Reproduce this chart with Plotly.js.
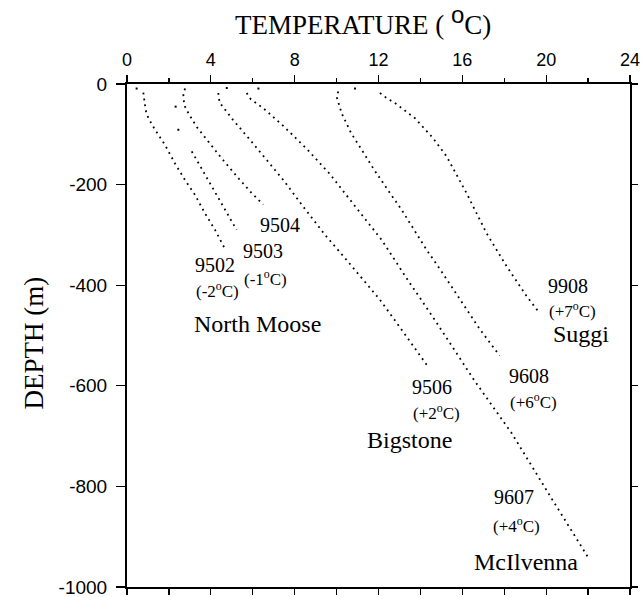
<!DOCTYPE html>
<html>
<head>
<meta charset="utf-8">
<script src="https://cdn.plot.ly/plotly-3.0.1.min.js"></script>
<style>
  html, body { margin: 0; padding: 0; background: #fff; }
  #chart { width: 644px; height: 597px; }
</style>
</head>
<body>
<div id="chart"></div>
<script>
// Temperature-depth logs, North Moose / Bigstone / McIlvenna / Suggi wells.
// Temperatures in degrees C, depths in metres (negative downward).

// North Moose 9502 (-2 C)
const w9502_t = [0.78, 0.83, 0.89, 1.02, 1.34, 1.81, 2.29, 2.77, 3.24, 3.72, 4.20, 4.65];
const w9502_z = [-17, -32, -52, -68, -91, -121, -158, -191, -220, -257, -290, -326];
const w9502_top_t = [0.46];
const w9502_top_z = [-9];

// North Moose 9503 (-1 C)
const w9503_t = [3.09, 4.15, 5.23];
const w9503_z = [-134, -212, -290];
const w9503_top_t = [2.32, 2.45];
const w9503_top_z = [-45, -91];

// North Moose 9504
const w9504_t = [2.77, 2.69, 2.73, 2.93, 3.32, 3.88, 4.52, 5.31, 5.95, 6.50];
const w9504_z = [-9, -22, -42, -58, -85, -115, -148, -187, -217, -240];

// Bigstone 9506 (+2 C)
const w9506_t = [4.36, 4.36, 4.44, 5.07, 5.87, 6.66, 7.46, 8.41, 9.45, 10.48, 11.27, 12.07, 12.87, 13.66, 14.38];
const w9506_z = [-18, -25, -38, -72, -111, -151, -191, -244, -300, -350, -389, -429, -475, -522, -563];
const w9506_top_t = [4.76];
const w9506_top_z = [-8];

// McIlvenna 9607 (+4 C)
const w9607_t = [5.71, 5.90, 6.50, 7.50, 8.60, 9.70, 10.90, 12.15, 13.34, 14.70, 16.60, 18.35, 20.20, 22.06];
const w9607_z = [-18, -30, -48, -85, -130, -180, -244, -310, -386, -470, -591, -694, -820, -945];
const w9607_top_t = [6.27];
const w9607_top_z = [-9];

// Bigstone 9608 (+6 C)
const w9608_t = [10.08, 10.00, 10.24, 10.70, 11.20, 11.80, 12.45, 13.10, 13.70, 14.30, 14.95, 15.60, 16.22, 16.86, 17.78];
const w9608_z = [-15, -25, -58, -98, -131, -171, -211, -250, -290, -330, -369, -409, -449, -489, -540];
const w9608_top_t = [10.88];
const w9608_top_z = [-9];

// Suggi 9908 (+7 C)
const w9908_t = [12.07, 12.39, 12.79, 13.10, 13.74, 14.61, 15.25, 16.20, 17.16, 18.12, 19.07, 19.62];
const w9908_z = [-18, -28, -38, -48, -68, -108, -144, -217, -297, -363, -422, -452];

// Axis ticks
const tempTicks = [0, 4, 8, 12, 16, 20, 24];
const tempTickText = ['0', '4', '8', '12', '16', '20', '24'];
const depthTicks = [0, -200, -400, -600, -800, -1000];
const depthTickText = ['0', '-200', '-400', '-600', '-800', '-1000'];

// Well labels: number, temperature offset and field name
const labelText = ['9502', '(-2<sup>o</sup>C)', '9503', '(-1<sup>o</sup>C)', '9504', 'North Moose',
                   '9506', '(+2<sup>o</sup>C)', 'Bigstone',
                   '9608', '(+6<sup>o</sup>C)',
                   '9908', '(+7<sup>o</sup>C)', 'Suggi',
                   '9607', '(+4<sup>o</sup>C)', 'McIlvenna'];
const labelT = [4.2, 4.3, 6.5, 6.6, 7.3, 6.25,
                14.55, 14.75, 13.5,
                19.2, 19.4,
                21.05, 21.25, 21.65,
                18.45, 18.6, 19.05];
const labelZ = [-360, -410, -332, -385, -280, -477,
                -602, -653, -708,
                -580, -630,
                -402, -450, -498,
                -822, -876, -951];
const labelSize = [20, 17, 20, 17, 20, 24,
                   20, 17, 24,
                   20, 17,
                   20, 17, 24,
                   20, 17, 24];

const dotLine = {color: '#000', width: 1.8, dash: '1.8px,4.2px'};
const dotMarker = {color: '#000', size: 2, symbol: 'square', line: {width: 0}};

function profile(t, z) {
  return {x: t, y: z, type: 'scatter', mode: 'lines', line: dotLine,
          hoverinfo: 'skip', showlegend: false};
}
function readings(t, z) {
  return {x: t, y: z, type: 'scatter', mode: 'markers', marker: dotMarker,
          hoverinfo: 'skip', showlegend: false};
}

const traces = [
  profile(w9502_t, w9502_z), readings(w9502_top_t, w9502_top_z),
  profile(w9503_t, w9503_z), readings(w9503_top_t, w9503_top_z),
  profile(w9504_t, w9504_z),
  profile(w9506_t, w9506_z), readings(w9506_top_t, w9506_top_z),
  profile(w9607_t, w9607_z), readings(w9607_top_t, w9607_top_z),
  profile(w9608_t, w9608_z), readings(w9608_top_t, w9608_top_z),
  profile(w9908_t, w9908_z),
  // frame axes: bottom temperature ticks and right depth ticks
  {x: [0], y: [0], xaxis: 'x2', yaxis: 'y2', type: 'scatter', mode: 'markers',
   marker: {opacity: 0}, hoverinfo: 'skip', showlegend: false}
];

const serif = 'Liberation Serif, Times New Roman, serif';
const sans = 'Liberation Sans, Arial, Helvetica, sans-serif';

const annotations = labelText.map((txt, i) => ({
  x: labelT[i], y: labelZ[i], xref: 'x', yref: 'y', text: txt,
  showarrow: false, xanchor: 'center', yanchor: 'middle',
  font: {family: serif, size: labelSize[i], color: '#000'}
}));

// axis titles
annotations.push({
  xref: 'paper', yref: 'paper', x: 0.469, y: 1, yshift: 64,
  xanchor: 'center', yanchor: 'middle', showarrow: false,
  text: 'TEMPERATURE ( <sup><span style="font-family:Liberation Sans, Arial, sans-serif;font-size:24px">o</span></sup>C)',
  font: {family: serif, size: 27, color: '#000'}
});
annotations.push({
  xref: 'paper', yref: 'paper', x: 0, y: 0.5, xshift: -94, yshift: -8,
  xanchor: 'center', yanchor: 'middle', showarrow: false, textangle: -90,
  text: 'DEPTH (m)',
  font: {family: serif, size: 27, color: '#000'}
});

const layout = {
  width: 644, height: 597,
  margin: {l: 127, r: 14, t: 84, b: 10, pad: 0},
  paper_bgcolor: '#fff', plot_bgcolor: '#fff',
  showlegend: false,
  xaxis: {
    side: 'top', range: [0, 24], tickmode: 'array',
    tickvals: tempTicks, ticktext: tempTickText,
    ticks: 'outside', ticklen: 7, tickwidth: 1.3, tickcolor: '#000',
    minor: {dtick: 2, tick0: 0, ticks: 'outside', ticklen: 4, tickwidth: 1.3, tickcolor: '#000', showgrid: false},
    showline: true, linecolor: '#000', linewidth: 2,
    showgrid: false, zeroline: false,
    tickfont: {family: sans, size: 18, color: '#000'},
    ticklabelstandoff: 2, ticklabeloverflow: 'allow',
    fixedrange: true
  },
  xaxis2: {
    overlaying: 'x', side: 'bottom', anchor: 'y', range: [0, 24], dtick: 2, tick0: 0,
    ticks: 'outside', ticklen: 6, tickwidth: 1.3, tickcolor: '#000',
    showticklabels: false, showline: true, linecolor: '#000', linewidth: 2,
    showgrid: false, zeroline: false, fixedrange: true
  },
  yaxis: {
    range: [-1000, 0], tickmode: 'array',
    tickvals: depthTicks, ticktext: depthTickText,
    ticks: 'outside', ticklen: 9, tickwidth: 1.3, tickcolor: '#000',
    showline: true, linecolor: '#000', linewidth: 2,
    showgrid: false, zeroline: false,
    tickfont: {family: sans, size: 19, color: '#000'},
    ticklabelstandoff: 5, ticklabeloverflow: 'allow',
    fixedrange: true
  },
  yaxis2: {
    overlaying: 'y', side: 'right', anchor: 'x', range: [-1000, 0], dtick: 200, tick0: 0,
    ticks: 'outside', ticklen: 6, tickwidth: 1.3, tickcolor: '#000',
    showticklabels: false, showline: true, linecolor: '#000', linewidth: 2,
    showgrid: false, zeroline: false, fixedrange: true
  },
  annotations: annotations
};

Plotly.newPlot('chart', traces, layout, {displayModeBar: false, staticPlot: true});
</script>
</body>
</html>
